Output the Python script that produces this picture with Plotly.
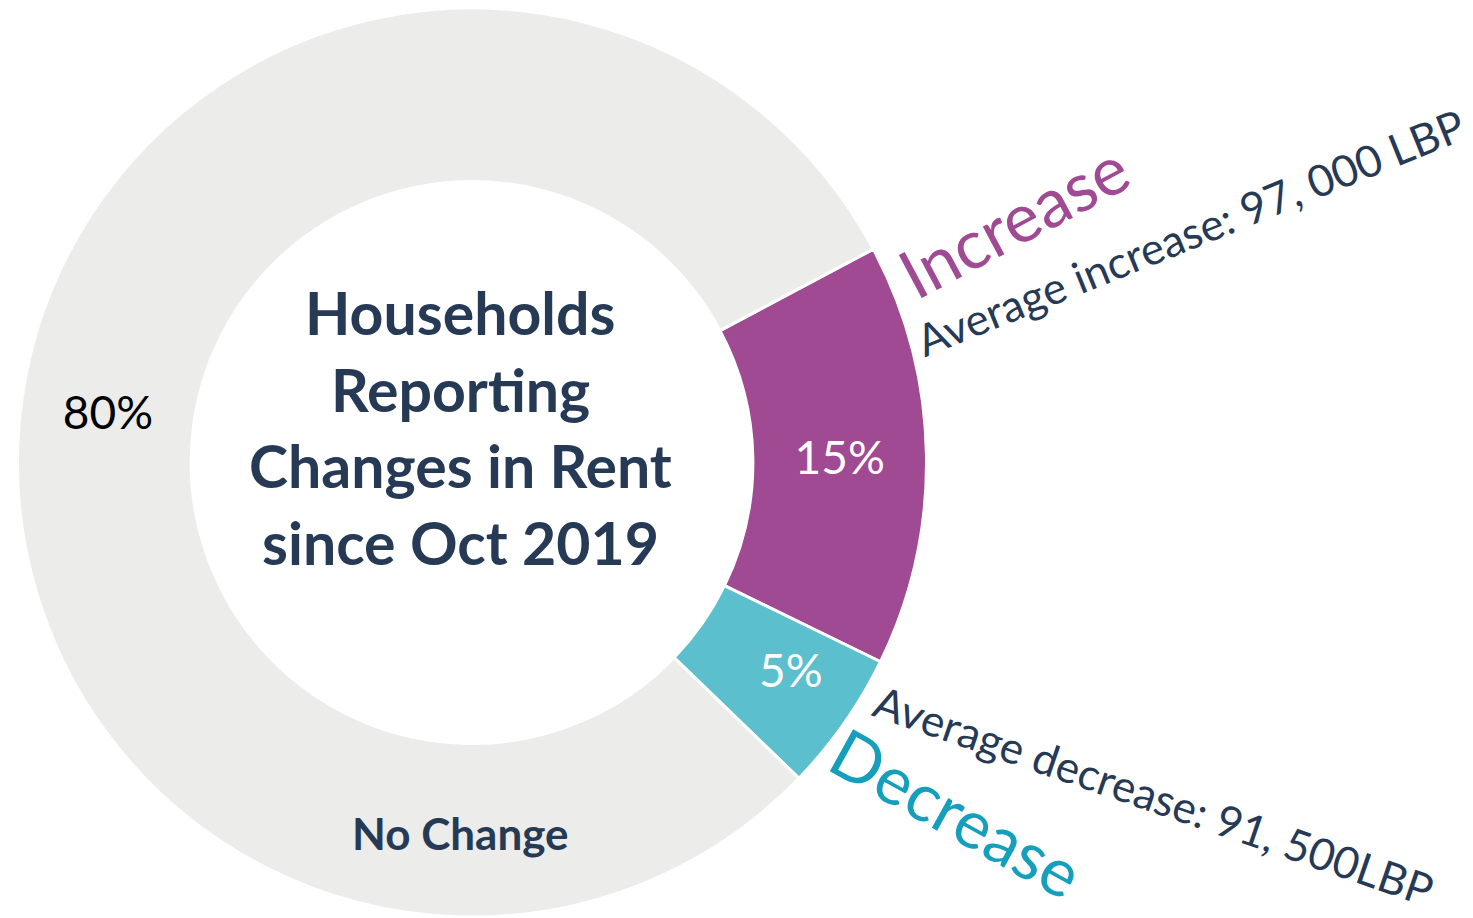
import plotly.graph_objects as go

# ---- data ----
labels = ["Increase", "Decrease", "No Change"]
values = [15, 5, 80]
slice_colors = ["#9f4a93", "#5bbfcd", "#ececea"]
text_colors = ["white", "white", "black"]
center_title = ["Households", "Reporting", "Changes in Rent", "since Oct 2019"]
avg_notes = ["Average increase: 97, 000 LBP", "Average decrease: 91, 500LBP"]

W, H = 1473, 918
OFF = 8  # page body margin
NAVY = "#263a56"
FONT = "Lato"

def px(x):
    return (x - OFF) / W

def py(y):
    return 1 - (y - OFF) / H

cx, cy, R = 472, 462.5, 454.5

# the small "Decrease" slice gets its value label as an annotation (placed like the original)
slice_text = [f"{v}%" if lab != "Decrease" else "" for lab, v in zip(labels, values)]

fig = go.Figure(go.Pie(
    labels=labels,
    values=values,
    sort=False,
    direction="clockwise",
    rotation=62,
    hole=0.618,
    marker=dict(colors=slice_colors, line=dict(color="white", width=3)),
    text=slice_text,
    textinfo="text",
    textposition="inside",
    insidetextorientation="horizontal",
    textfont=dict(family=FONT, size=46, color=text_colors),
    hoverinfo="label+value",
    showlegend=False,
    domain=dict(x=[px(cx - R), px(cx + R)],
                y=[max(0, py(cy + R)), min(1, py(cy - R))]),
))

annotations = []
title_y = [312, 389, 466, 542]
for line, yy in zip(center_title, title_y):
    annotations.append(dict(
        x=px(460), y=py(yy), xref="paper", yref="paper",
        text=f"<b>{line}</b>", showarrow=False,
        xanchor="center", yanchor="middle",
        font=dict(family=FONT, size=59, color=NAVY),
    ))

annotations.append(dict(
    x=px(791), y=py(669), xref="paper", yref="paper",
    text=f"{values[1]}%", showarrow=False,
    xanchor="center", yanchor="middle",
    font=dict(family=FONT, size=46, color=text_colors[1]),
))

annotations.append(dict(
    x=px(460), y=py(833), xref="paper", yref="paper",
    text=f"<b>{labels[2]}</b>", showarrow=False,
    xanchor="center", yanchor="middle",
    font=dict(family=FONT, size=44, color=NAVY),
))

annotations.append(dict(
    x=px(1013), y=py(219), xref="paper", yref="paper",
    text=labels[0], showarrow=False, textangle=-28,
    xanchor="center", yanchor="middle",
    font=dict(family=FONT, size=68, color="#9f4a93"),
))
annotations.append(dict(
    x=px(1190), y=py(232), xref="paper", yref="paper",
    text=avg_notes[0], showarrow=False, textangle=-22,
    xanchor="center", yanchor="middle",
    font=dict(family=FONT, size=44, color=NAVY),
))
annotations.append(dict(
    x=px(957), y=py(812), xref="paper", yref="paper",
    text=labels[1], showarrow=False, textangle=29,
    xanchor="center", yanchor="middle",
    font=dict(family=FONT, size=67, color="#169fbd"),
))
annotations.append(dict(
    x=px(1154), y=py(795), xref="paper", yref="paper",
    text=avg_notes[1], showarrow=False, textangle=19,
    xanchor="center", yanchor="middle",
    font=dict(family=FONT, size=44, color=NAVY),
))

fig.update_layout(
    width=W, height=H,
    margin=dict(l=0, r=0, t=0, b=0),
    paper_bgcolor="white", plot_bgcolor="white",
    annotations=annotations,
    uniformtext=dict(minsize=46, mode="show"),
)

fig.write_html("out.html")
